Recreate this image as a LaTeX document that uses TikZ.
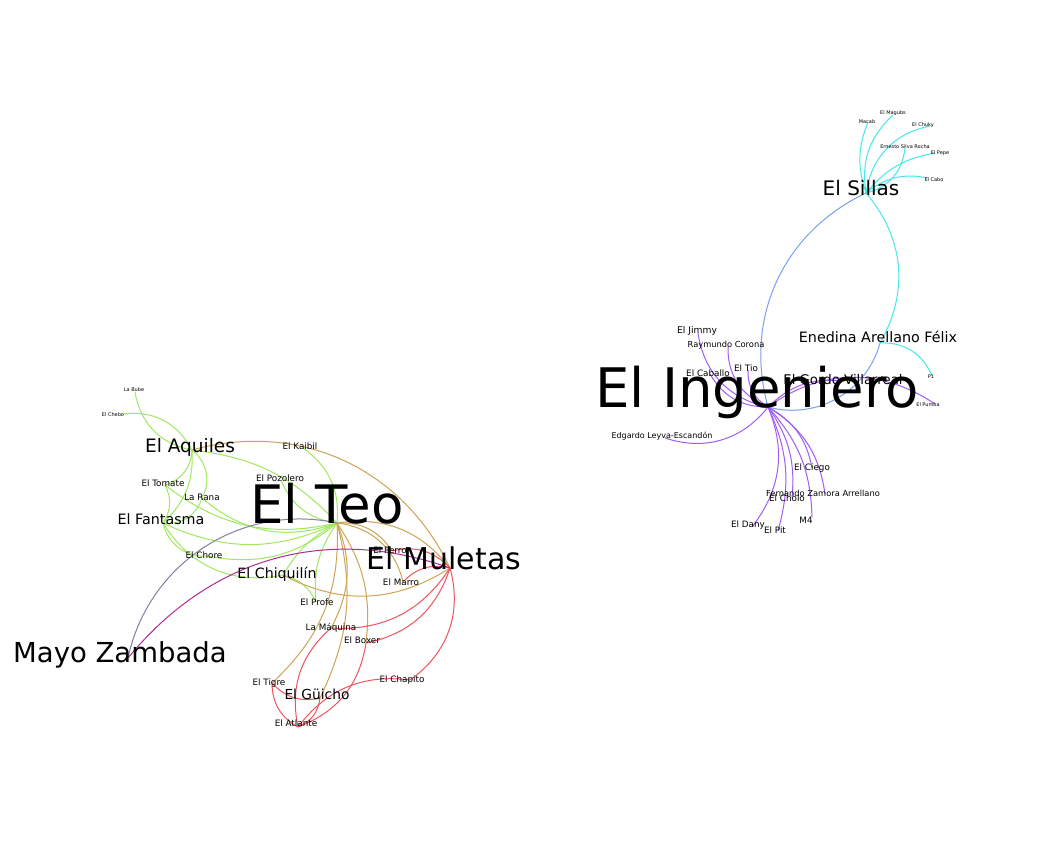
\documentclass[tikz,border=0pt]{standalone}
\usepackage{fontspec}
\setmainfont{DejaVu Sans}
\definecolor{teogreen}{RGB}{160,232,96}
\definecolor{muletasgold}{RGB}{204,164,84}
\definecolor{guichored}{RGB}{240,84,92}
\definecolor{ingpurple}{RGB}{162,92,240}
\definecolor{sillascyan}{RGB}{70,232,232}
\definecolor{linkblue}{RGB}{122,160,240}
\definecolor{mayogray}{RGB}{130,128,160}
\definecolor{mayomagenta}{RGB}{178,42,150}
% id / node x / node y / label x / label y / size / text
\newcommand{\cartelpeople}{%
teo/337/523/327/523/53/{El Teo},
ing/768/407/757/407/54.5/{El Ingeniero},
mul/450/568/444/569/30/{El Muletas},
mayo/128/658/120/662/27.5/{Mayo Zambada},
sillas/866/193/861/195/20/{El Sillas},
ened/880/343/878/342/14.3/{Enedina Arellano Félix},
aquiles/192/450/190/452/18.5/{El Aquiles},
fant/163/523/161/524/14.3/{El Fantasma},
chiq/283/575/277/578/14.2/{El Chiquilín},
guicho/320/698/317/699/13.8/{El Güicho},
gordo/843/381/843/384/13.3/{El Gordo Villarreal},
kaibil/303/448/300/449/8.8/{El Kaibil},
pozolero/281/480/280/481/8.8/{El Pozolero},
tomate/165/485/163/486/8.8/{El Tomate},
rana/202/498/202/500/8.8/{La Rana},
chore/207/556/204/558/8.8/{El Chore},
profe/316/602/317/605/8.8/{El Profe},
perro/392/551/390/553/8.8/{El Perro},
marro/403/582/401/585/8.8/{El Marro},
maquina/331/628/331/630/8.8/{La Máquina},
boxer/366/643/362/643/8.8/{El Boxer},
tigre/272/683/269/685/8.8/{El Tigre},
atlante/298/727/296/726/8.8/{El Atlante},
chapito/410/680/402/682/8.8/{El Chapito},
jimmy/698/333/697/333/9.2/{El Jimmy},
raymundo/728/346/726/347/8.3/{Raymundo Corona},
caballo/710/374/708/376/8.8/{El Caballo},
tio/748/370/746/371/8.8/{El Tio},
edgardo/665/438/662/438/8/{Edgardo Leyva-Escandón},
ciego/812/468/812/470/8.8/{El Ciego},
fernando/825/494/823/496/8.3/{Fernando Zamora Arrellano},
cholo/792/498/787/501/8.8/{El Cholo},
m4/812/517/806/523/8.8/{M4},
dany/752/527/748/527/8.8/{El Dany},
pit/778/531/775/533/8.8/{El Pit},
macab/868/122/867/123/5/{Macab},
magubs/893/115/893/114/5/{El Magubs},
chuky/930/126/923/126/5/{El Chuky},
ernesto/905/148/905/148/5/{Ernesto Silva Rocha},
pepe/935/153/940/154/5/{El Pepe},
cabo/928/178/934/181/5/{El Cabo},
p1/932/376/931/378/5/{P1},
pumba/935/404/928/406/5/{El Pumba},
labube/135/392/134/391/5/{La Bube},
chebo/122/414/113/416/5/{El Chebo}}

\begin{document}
\begin{tikzpicture}[x=1pt,y=1pt,
    pt/.style={inner sep=0pt,minimum size=0pt},
    lbl/.style={anchor=base,inner sep=0pt},
    edge/.style={line width=1pt}]
  \fill[white] (0,0) rectangle (1057,-841);
  \useasboundingbox (0,0) rectangle (1057,-841);
  % points where the links meet
  \foreach \id/\x/\y/\lx/\ly/\sz/\txt in \cartelpeople
    \node[pt] (\id) at (\x,-\y) {};
  % links
  \foreach \a/\b/\s in {sillas/macab/20, sillas/magubs/28, sillas/chuky/35,
      sillas/ernesto/-35, sillas/pepe/20, sillas/cabo/25, sillas/ened/35, ened/p1/35}
    \draw[edge,sillascyan] (\a) to[bend left=\s] (\b);
  \foreach \a/\b/\s in {sillas/ing/-40, ened/ing/45}
    \draw[edge,linkblue] (\a) to[bend left=\s] (\b);
  \foreach \a/\b/\s in {ing/jimmy/35, ing/raymundo/35, ing/caballo/30, ing/tio/30,
      ing/gordo/25, ing/pumba/35, ing/edgardo/35, ing/dany/30, ing/pit/20,
      ing/cholo/20, ing/m4/20, ing/fernando/25, ing/ciego/25}
    \draw[edge,ingpurple] (\a) to[bend left=\s] (\b);
  \foreach \a/\b/\s in {aquiles/labube/35, aquiles/chebo/-35, aquiles/tomate/35,
      aquiles/fant/25, aquiles/rana/40, aquiles/teo/20, tomate/fant/30,
      tomate/teo/-25, rana/teo/-30, fant/teo/-25, fant/rana/-40, fant/chore/-40,
      fant/chiq/-35, chore/teo/-25, pozolero/teo/-30, kaibil/teo/30,
      chiq/teo/15, profe/teo/20, chiq/profe/25}
    \draw[edge,teogreen] (\a) to[bend left=\s] (\b);
  \foreach \a/\b/\s in {aquiles/mul/40, teo/mul/30, chiq/mul/-30, teo/perro/30,
      teo/marro/35, teo/tigre/25, teo/maquina/25, teo/guicho/20, teo/boxer/20}
    \draw[edge,muletasgold] (\a) to[bend left=\s] (\b);
  \foreach \a/\b/\s in {mul/maquina/30, mul/boxer/30, mul/chapito/35, mul/marro/-30,
      mul/perro/-30, tigre/guicho/-30, tigre/atlante/-30, guicho/atlante/30,
      maquina/atlante/-30, boxer/atlante/30, atlante/chapito/30}
    \draw[edge,guichored] (\a) to[bend left=\s] (\b);
  \draw[edge,mayogray] (mayo) to[bend left=45] (teo);
  \draw[edge,mayomagenta] (mayo) to[bend left=35] (mul);
  % names
  \foreach \id/\x/\y/\lx/\ly/\sz/\txt in \cartelpeople
    \node[lbl,font={\fontsize{\sz}{\sz}\selectfont}] (\id-l) at (\lx,-\ly) {\txt};
\end{tikzpicture}
\end{document}
